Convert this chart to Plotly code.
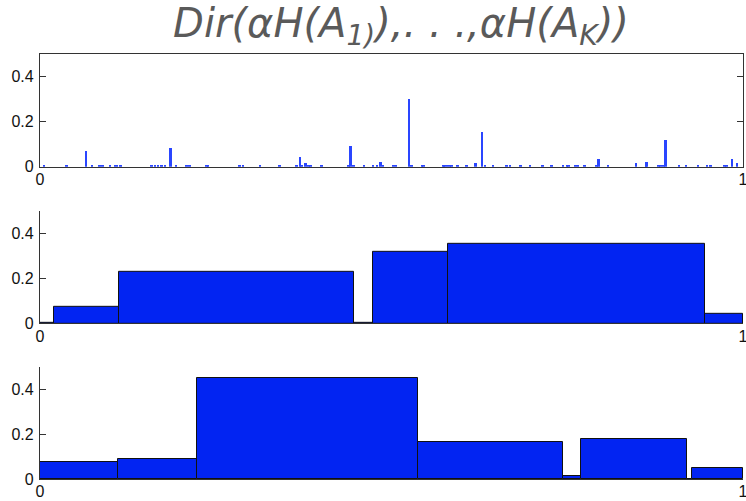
import plotly.graph_objects as go
from plotly.subplots import make_subplots

# ---- data ----
# Top panel: spike locations and weights (one draw from a DP, truncated view)
spike_x = [0.006, 0.038, 0.066, 0.074, 0.085, 0.089, 0.100, 0.107, 0.110, 0.115,
           0.159, 0.164, 0.168, 0.173, 0.178, 0.186, 0.194, 0.209, 0.213, 0.237,
           0.239, 0.284, 0.289, 0.313, 0.341, 0.365, 0.370, 0.372, 0.378, 0.382,
           0.385, 0.401, 0.439, 0.442, 0.446, 0.461, 0.474, 0.480, 0.485, 0.488,
           0.503, 0.507, 0.525, 0.529, 0.544, 0.546, 0.574, 0.576, 0.579, 0.583,
           0.586, 0.594, 0.607, 0.620, 0.629, 0.633, 0.645, 0.664, 0.669, 0.684,
           0.697, 0.715, 0.728, 0.744, 0.750, 0.752, 0.762, 0.766, 0.775, 0.792,
           0.795, 0.808, 0.848, 0.862, 0.863, 0.880, 0.883, 0.887, 0.890, 0.909,
           0.919, 0.936, 0.949, 0.954, 0.974, 0.977, 0.985, 0.992]
spike_h = [0.008, 0.008, 0.071, 0.008, 0.008, 0.008, 0.008, 0.008, 0.008, 0.008,
           0.008, 0.008, 0.008, 0.008, 0.008, 0.084, 0.008, 0.008, 0.008, 0.008,
           0.008, 0.008, 0.008, 0.008, 0.008, 0.008, 0.042, 0.008, 0.015, 0.008,
           0.008, 0.008, 0.008, 0.092, 0.008, 0.008, 0.008, 0.008, 0.022, 0.008,
           0.008, 0.008, 0.299, 0.008, 0.008, 0.008, 0.008, 0.008, 0.008, 0.008,
           0.008, 0.008, 0.008, 0.015, 0.154, 0.008, 0.008, 0.008, 0.008, 0.008,
           0.008, 0.008, 0.008, 0.008, 0.008, 0.008, 0.008, 0.008, 0.008, 0.008,
           0.034, 0.008, 0.015, 0.008, 0.022, 0.008, 0.008, 0.008, 0.118, 0.008,
           0.008, 0.008, 0.008, 0.008, 0.008, 0.008, 0.034, 0.015]

# Middle panel: partition edges and cell probabilities
mid_edges = [0.0, 0.020, 0.113, 0.446, 0.473, 0.580, 0.946, 1.0]
mid_probs = [0.005, 0.074, 0.228, 0.005, 0.316, 0.352, 0.044]

# Bottom panel: partition edges and cell probabilities
bot_edges = [0.0, 0.1105, 0.224, 0.538, 0.744, 0.770, 0.921, 0.927, 1.0]
bot_probs = [0.074, 0.090, 0.449, 0.166, 0.012, 0.179, 0.0, 0.047]

y_ticks = [0, 0.2, 0.4]
y_tick_labels = ["0", "0.2", "0.4"]
x_ticks = [0, 1]
x_tick_labels = ["0", "1"]

TITLE = "Dir(αH(A<sub>1)</sub>),. . .,αH(A<sub>K</sub>))"

FILL = "#0224f2"
SPIKE = "#2a46ff"

fig = make_subplots(rows=3, cols=1, vertical_spacing=0.1)


def cells(edges):
    centers = [(a + b) / 2 for a, b in zip(edges[:-1], edges[1:])]
    widths = [b - a for a, b in zip(edges[:-1], edges[1:])]
    return centers, widths


fig.add_trace(go.Bar(x=spike_x, y=spike_h, width=0.0028,
                     marker=dict(color=SPIKE, line=dict(width=0)),
                     showlegend=False), row=1, col=1)

for r, (edges, probs) in enumerate([(mid_edges, mid_probs), (bot_edges, bot_probs)], start=2):
    c, w = cells(edges)
    fig.add_trace(go.Bar(x=c, y=probs, width=w,
                         marker=dict(color=FILL, line=dict(color="#111111", width=1)),
                         showlegend=False), row=r, col=1)

domains = [[0.735, 1.0], [0.366, 0.631], [0.0, 0.2635]]
tick_font = dict(family="Liberation Sans, Arial, sans-serif", size=16, color="#111111")
for i in range(3):
    ax_x = "xaxis" if i == 0 else f"xaxis{i+1}"
    ax_y = "yaxis" if i == 0 else f"yaxis{i+1}"
    mirror = True if i == 0 else False
    fig.layout[ax_x].update(range=[0, 1], tickvals=x_ticks, ticktext=x_tick_labels,
                            ticks="", showgrid=False, zeroline=False,
                            showline=True, linecolor="#333333", linewidth=1.2,
                            mirror=mirror, tickfont=tick_font, ticklabelstandoff=-2,
                            automargin=False, ticklabeloverflow="allow")
    fig.layout[ax_y].update(range=[0, 0.5], domain=domains[i], tickvals=y_ticks,
                            ticktext=y_tick_labels, ticks="inside", ticklen=6,
                            tickcolor="#333333", showgrid=False, zeroline=False,
                            showline=True, linecolor="#333333", linewidth=1.2,
                            mirror="ticks" if i == 0 else False, tickfont=tick_font,
                            automargin=False, ticklabeloverflow="allow",
                            ticklabelstandoff=2)

fig.update_layout(
    width=746, height=501,
    margin=dict(l=40, r=3, t=54, b=22),
    plot_bgcolor="white", paper_bgcolor="white",
    bargap=0,
    title=dict(text=TITLE, x=0.5375, xanchor="center", y=0.955, yanchor="middle",
               font=dict(family="DejaVu Sans, sans-serif", size=40,
                         color="#5a5a5a", style="italic", weight=200)),
)

fig.write_html("out.html", config={"displayModeBar": False},
               post_script="document.body.style.margin='0';"
                           "document.body.style.padding='0';")
